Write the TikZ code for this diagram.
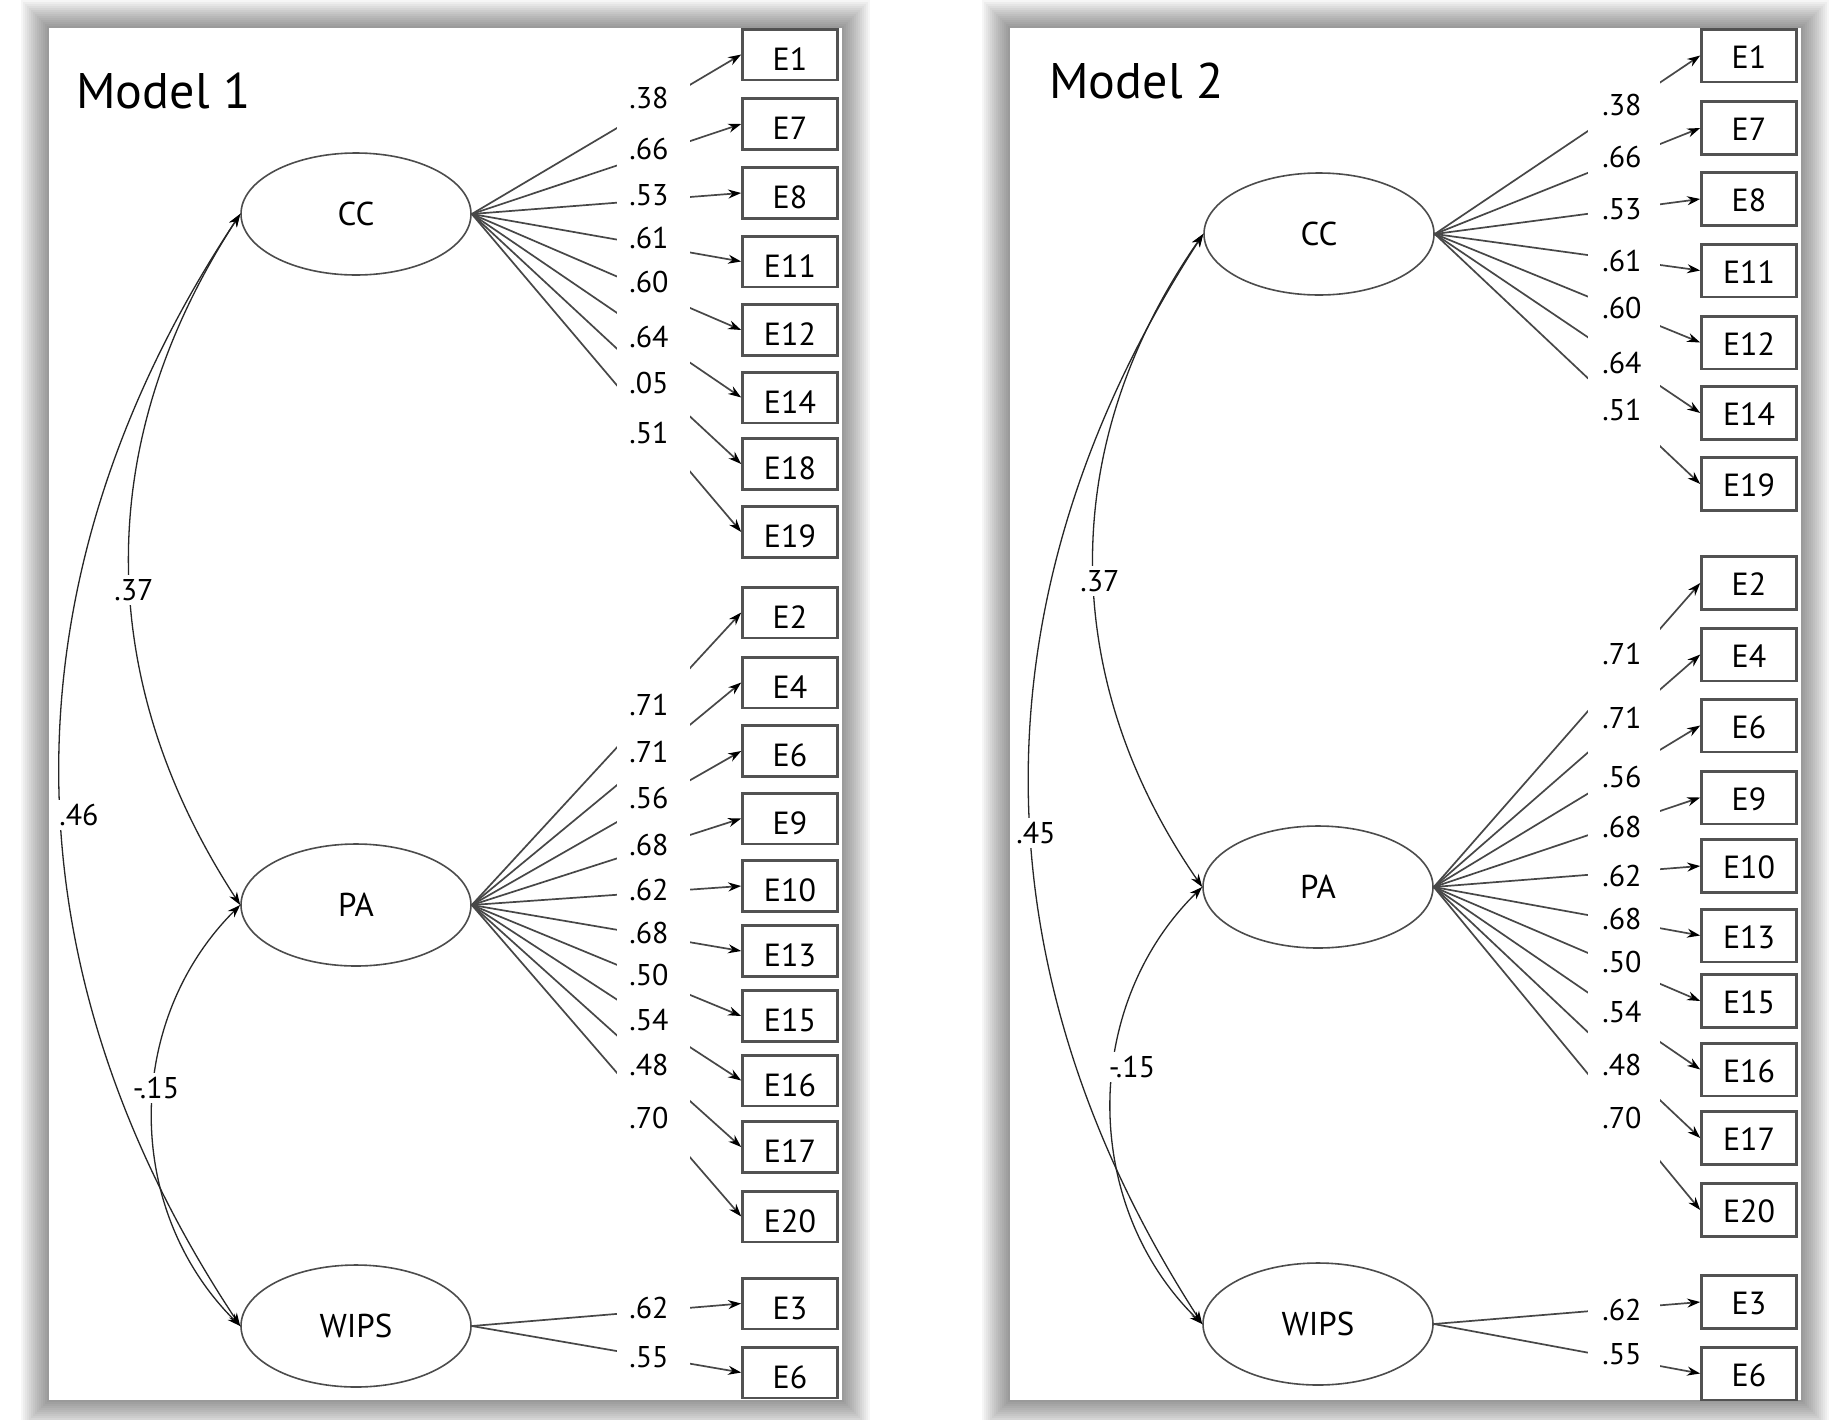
\documentclass[tikz,border=0pt]{standalone}
\usepackage{fontspec}
\setmainfont{PT Sans}
\usetikzlibrary{shapes.geometric,arrows.meta}

\tikzset{
  latent/.style={ellipse, draw=black!70, line width=0.8pt, minimum width=115pt, minimum height=61pt, inner sep=0pt, font=\fontsize{16.5}{18}\selectfont},
  itemA/.style={draw=black!68, line width=1.3pt, minimum width=47.5pt, inner sep=0pt, text height=20.5pt, text depth=4.8pt, font=\fontsize{16}{18}\selectfont},
  itemB/.style={itemA, text height=19.5pt, text depth=6.8pt},
  load/.style={->, draw=black!72, line width=0.85pt},
  cov/.style={<->, draw=black!85, line width=0.65pt},
  coef/.style={anchor=west, inner sep=0pt, font=\fontsize{15}{17}\selectfont},
  covlab/.style={fill=white, inner sep=2pt, font=\fontsize{15}{17}\selectfont},
  modeltitle/.style={anchor=base west, inner sep=0pt, font=\fontsize{25}{30}\selectfont},
}

\begin{document}
\begin{tikzpicture}[x=0.5pt,y=-0.5pt,>={Stealth[length=6.5pt,width=4.5pt,color=black]}]
\useasboundingbox (0,0) rectangle (1830,1419);

% soft shadows and white panels
\foreach \s in {1,...,14}
  \fill[black,opacity=0.035] ({49-2*\s},{28-2*\s}) rectangle ({842+2*\s},{1400+2*\s});
\foreach \s in {1,...,14}
  \fill[black,opacity=0.035] ({1010-2*\s},{28-2*\s}) rectangle ({1801+2*\s},{1400+2*\s});
\fill[white] (49,28) rectangle (842,1400);
\fill[white] (1010,28) rectangle (1801,1400);

% Model 1
\node[modeltitle] (m1title) at (76,108) {Model 1};
\node[latent] (m1CC) at (356,214) {CC};
\node[latent] (m1PA) at (356,905) {PA};
\node[latent] (m1WIPS) at (356,1326) {WIPS};

\node[itemA] (m1E1) at (790,54.5) {E1};
\node[itemA] (m1E7) at (790,124) {E7};
\node[itemA] (m1E8) at (790,193) {E8};
\node[itemA] (m1E11) at (790,261.5) {E11};
\node[itemA] (m1E12) at (790,330) {E12};
\node[itemA] (m1E14) at (790,397.5) {E14};
\node[itemA] (m1E18) at (790,464) {E18};
\node[itemA] (m1E19) at (790,532) {E19};
\node[itemA] (m1E2) at (790,612.5) {E2};
\node[itemA] (m1E4) at (790,682.5) {E4};
\node[itemA] (m1E6) at (790,751) {E6};
\node[itemA] (m1E9) at (790,818.5) {E9};
\node[itemA] (m1E10) at (790,886) {E10};
\node[itemA] (m1E13) at (790,951) {E13};
\node[itemA] (m1E15) at (790,1016) {E15};
\node[itemA] (m1E16) at (790,1080.5) {E16};
\node[itemA] (m1E17) at (790,1147) {E17};
\node[itemA] (m1E20) at (790,1216.5) {E20};
\node[itemA] (m1E3) at (790,1303.5) {E3};
\node[itemA] (m1E6w) at (790,1372.5) {E6};

\draw[load] (m1CC.east) -- (m1E1.west);
\draw[load] (m1CC.east) -- (m1E7.west);
\draw[load] (m1CC.east) -- (m1E8.west);
\draw[load] (m1CC.east) -- (m1E11.west);
\draw[load] (m1CC.east) -- (m1E12.west);
\draw[load] (m1CC.east) -- (m1E14.west);
\draw[load] (m1CC.east) -- (m1E18.west);
\draw[load] (m1CC.east) -- (m1E19.west);
\draw[load] (m1PA.east) -- (m1E2.west);
\draw[load] (m1PA.east) -- (m1E4.west);
\draw[load] (m1PA.east) -- (m1E6.west);
\draw[load] (m1PA.east) -- (m1E9.west);
\draw[load] (m1PA.east) -- (m1E10.west);
\draw[load] (m1PA.east) -- (m1E13.west);
\draw[load] (m1PA.east) -- (m1E15.west);
\draw[load] (m1PA.east) -- (m1E16.west);
\draw[load] (m1PA.east) -- (m1E17.west);
\draw[load] (m1PA.east) -- (m1E20.west);
\draw[load] (m1WIPS.east) -- (m1E3.west);
\draw[load] (m1WIPS.east) -- (m1E6w.west);

% blank column behind the loadings
\fill[white] (617,30) rectangle (690,1398);

\node[coef] (m1c1) at (629,98) {.38};
\node[coef] (m1c2) at (629,149) {.66};
\node[coef] (m1c3) at (629,195) {.53};
\node[coef] (m1c4) at (629,238) {.61};
\node[coef] (m1c5) at (629,282) {.60};
\node[coef] (m1c6) at (629,337) {.64};
\node[coef] (m1c7) at (629,383) {.05};
\node[coef] (m1c8) at (629,433) {.51};
\node[coef] (m1c9) at (629,705) {.71};
\node[coef] (m1c10) at (629,752) {.71};
\node[coef] (m1c11) at (629,798) {.56};
\node[coef] (m1c12) at (629,845) {.68};
\node[coef] (m1c13) at (629,890) {.62};
\node[coef] (m1c14) at (629,933) {.68};
\node[coef] (m1c15) at (629,975) {.50};
\node[coef] (m1c16) at (629,1020) {.54};
\node[coef] (m1c17) at (629,1065) {.48};
\node[coef] (m1c18) at (629,1118) {.70};
\node[coef] (m1c19) at (629,1308) {.62};
\node[coef] (m1c20) at (629,1357) {.55};

\draw[cov] (m1CC.west) .. controls (92.6,441) and (92.6,678) .. (m1PA.west);
\draw[cov] (m1CC.west) .. controls (-0.3,577) and (-0.3,963) .. (m1WIPS.west);
\draw[cov] (m1PA.west) .. controls (123.5,1021.5) and (123.5,1209.5) .. (m1WIPS.west);
\node[covlab] (m1r1) at (134,590) {.37};
\node[covlab] (m1r2) at (79,815) {.46};
\node[covlab] (m1r3) at (156,1088) {-.15};

% Model 2
\node[modeltitle] (m2title) at (1049,98) {Model 2};
\node[latent] (m2CC) at (1319,234) {CC};
\node[latent] (m2PA) at (1318,887) {PA};
\node[latent] (m2WIPS) at (1318,1324) {WIPS};

\node[itemB] (m2E1) at (1749,55.5) {E1};
\node[itemB] (m2E7) at (1749,128) {E7};
\node[itemB] (m2E8) at (1749,199) {E8};
\node[itemB] (m2E11) at (1749,270.5) {E11};
\node[itemB] (m2E12) at (1749,342.5) {E12};
\node[itemB] (m2E14) at (1749,413) {E14};
\node[itemB] (m2E19) at (1749,484) {E19};
\node[itemB] (m2E2) at (1749,583) {E2};
\node[itemB] (m2E4) at (1749,654.5) {E4};
\node[itemB] (m2E6) at (1749,725.5) {E6};
\node[itemB] (m2E9) at (1749,797.5) {E9};
\node[itemB] (m2E10) at (1749,866) {E10};
\node[itemB] (m2E13) at (1749,935.5) {E13};
\node[itemB] (m2E15) at (1749,1001) {E15};
\node[itemB] (m2E16) at (1749,1069.5) {E16};
\node[itemB] (m2E17) at (1749,1138) {E17};
\node[itemB] (m2E20) at (1749,1210) {E20};
\node[itemB] (m2E3) at (1749,1302) {E3};
\node[itemB] (m2E6w) at (1749,1373.5) {E6};

\draw[load] (m2CC.east) -- (m2E1.west);
\draw[load] (m2CC.east) -- (m2E7.west);
\draw[load] (m2CC.east) -- (m2E8.west);
\draw[load] (m2CC.east) -- (m2E11.west);
\draw[load] (m2CC.east) -- (m2E12.west);
\draw[load] (m2CC.east) -- (m2E14.west);
\draw[load] (m2CC.east) -- (m2E19.west);
\draw[load] (m2PA.east) -- (m2E2.west);
\draw[load] (m2PA.east) -- (m2E4.west);
\draw[load] (m2PA.east) -- (m2E6.west);
\draw[load] (m2PA.east) -- (m2E9.west);
\draw[load] (m2PA.east) -- (m2E10.west);
\draw[load] (m2PA.east) -- (m2E13.west);
\draw[load] (m2PA.east) -- (m2E15.west);
\draw[load] (m2PA.east) -- (m2E16.west);
\draw[load] (m2PA.east) -- (m2E17.west);
\draw[load] (m2PA.east) -- (m2E20.west);
\draw[load] (m2WIPS.east) -- (m2E3.west);
\draw[load] (m2WIPS.east) -- (m2E6w.west);

% blank column behind the loadings
\fill[white] (1588,30) rectangle (1660,1398);

\node[coef] (m2c1) at (1602,105) {.38};
\node[coef] (m2c2) at (1602,157) {.66};
\node[coef] (m2c3) at (1602,209) {.53};
\node[coef] (m2c4) at (1602,261) {.61};
\node[coef] (m2c5) at (1602,308) {.60};
\node[coef] (m2c6) at (1602,363) {.64};
\node[coef] (m2c7) at (1602,410) {.51};
\node[coef] (m2c8) at (1602,654) {.71};
\node[coef] (m2c9) at (1602,718) {.71};
\node[coef] (m2c10) at (1602,777) {.56};
\node[coef] (m2c11) at (1602,827) {.68};
\node[coef] (m2c12) at (1602,876) {.62};
\node[coef] (m2c13) at (1602,919) {.68};
\node[coef] (m2c14) at (1602,962) {.50};
\node[coef] (m2c15) at (1602,1012) {.54};
\node[coef] (m2c16) at (1602,1065) {.48};
\node[coef] (m2c17) at (1602,1118) {.70};
\node[coef] (m2c18) at (1602,1310) {.62};
\node[coef] (m2c19) at (1602,1354) {.55};

\draw[cov] (m2CC.west) .. controls (1057.3,443.4) and (1057.3,677.6) .. (m2PA.west);
\draw[cov] (m2CC.west) .. controls (971.5,592) and (971.5,966) .. (m2WIPS.west);
\draw[cov] (m2PA.west) .. controls (1081,1005.9) and (1081,1205.1) .. (m2WIPS.west);
\node[covlab] (m2r1) at (1100,581) {.37};
\node[covlab] (m2r2) at (1036,833) {.45};
\node[covlab] (m2r3) at (1132,1067) {-.15};
\end{tikzpicture}
\end{document}
